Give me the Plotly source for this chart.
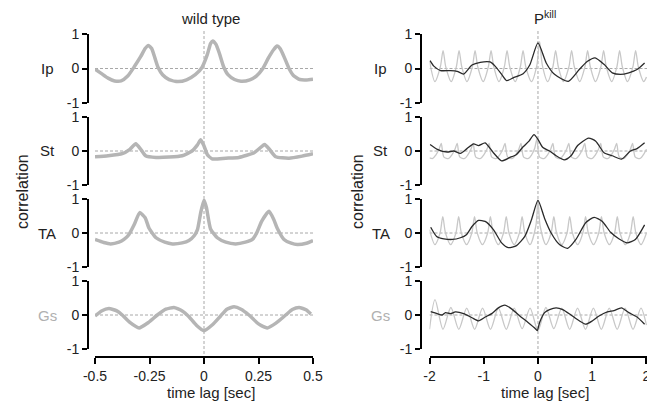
import plotly.graph_objects as go

# ---------------- data ----------------
rows = ["Ip", "St", "TA", "Gs"]
row_colors = ["#222222", "#222222", "#222222", "#b0b0b0"]

x_ticks_left = [-0.5, -0.25, 0, 0.25, 0.5]
x_ticklabels_left = ["-0.5", "-0.25", "0", "0.25", "0.5"]
x_ticks_right = [-2, -1, 0, 1, 2]
x_ticklabels_right = ["-2", "-1", "0", "1", "2"]
y_ticks = [-1, 0, 1]
y_ticklabels = ["-1", "0", "1"]

# wild type (left column)
wt_ip_x = [-0.50, -0.47, -0.44, -0.41, -0.38, -0.35, -0.32, -0.29, -0.27, -0.255, -0.24, -0.225, -0.21,
           -0.19, -0.16, -0.12, -0.08, -0.04, -0.01, 0.015, 0.03, 0.04, 0.055, 0.07, 0.09, 0.11, 0.14,
           0.17, 0.21, 0.24, 0.27, 0.295, 0.32, 0.335, 0.35, 0.37, 0.39, 0.41, 0.44, 0.47, 0.50]
wt_ip_y = [-0.02, -0.15, -0.28, -0.36, -0.36, -0.22, 0.05, 0.35, 0.58, 0.67, 0.58, 0.30, 0.02,
           -0.18, -0.32, -0.38, -0.33, -0.18, 0.02, 0.40, 0.72, 0.80, 0.70, 0.45, 0.05, -0.18, -0.32,
           -0.37, -0.33, -0.22, 0.0, 0.30, 0.55, 0.65, 0.57, 0.30, 0.0, -0.20, -0.32, -0.33, -0.31]

wt_st_x = [-0.50, -0.44, -0.375, -0.34, -0.313, -0.29, -0.268, -0.22, -0.16, -0.10, -0.055, -0.03, -0.015,
           0.0, 0.015, 0.037, 0.10, 0.16, 0.23, 0.255, 0.278, 0.30, 0.329, 0.39, 0.45, 0.50]
wt_st_y = [-0.17, -0.14, -0.08, 0.05, 0.21, 0.05, -0.14, -0.19, -0.18, -0.14, 0.0, 0.18, 0.33,
           0.15, -0.10, -0.23, -0.21, -0.19, -0.05, 0.08, 0.19, 0.05, -0.17, -0.21, -0.15, -0.08]

wt_ta_x = [-0.50, -0.46, -0.428, -0.39, -0.367, -0.345, -0.32, -0.295, -0.27, -0.252, -0.22, -0.18, -0.145,
           -0.10, -0.069, -0.045, -0.03, -0.015, 0.0, 0.011, 0.03, 0.061, 0.10, 0.145, 0.19, 0.222, 0.24,
           0.265, 0.298, 0.32, 0.336, 0.367, 0.40, 0.428, 0.47, 0.50]
wt_ta_y = [-0.19, -0.28, -0.32, -0.27, -0.19, -0.05, 0.25, 0.60, 0.45, 0.14, -0.14, -0.27, -0.32,
           -0.29, -0.22, -0.08, 0.10, 0.60, 0.97, 0.75, 0.12, -0.14, -0.27, -0.32, -0.27, -0.19, -0.02,
           0.35, 0.64, 0.40, 0.14, -0.19, -0.30, -0.34, -0.30, -0.22]

wt_gs_x = [-0.50, -0.47, -0.436, -0.40, -0.375, -0.34, -0.298, -0.255, -0.214, -0.175, -0.138, -0.10,
           -0.069, -0.035, 0.0, 0.04, 0.076, 0.105, 0.138, 0.17, 0.206, 0.25, 0.29, 0.33, 0.375, 0.405,
           0.436, 0.47, 0.49]
wt_gs_y = [-0.03, 0.12, 0.19, 0.12, 0.0, -0.22, -0.38, -0.22, 0.0, 0.17, 0.22, 0.12,
           -0.05, -0.30, -0.46, -0.28, -0.03, 0.17, 0.24, 0.17, 0.0, -0.26, -0.38, -0.24, 0.0, 0.16,
           0.22, 0.15, 0.03]

# P-kill (right column): light grey reference and dark curve
gr_ip_x = [-2.0, -1.9, -1.8, -1.75, -1.7, -1.6, -1.505, -1.455, -1.405, -1.31, -1.21, -1.16, -1.11, -1.01,
           -0.915, -0.865, -0.815, -0.72, -0.62, -0.57, -0.52, -0.42, -0.325, -0.275, -0.225, -0.12,
           -0.02, 0.03, 0.08, 0.18, 0.275, 0.325, 0.375, 0.47, 0.57, 0.62, 0.67, 0.77, 0.865, 0.915,
           0.965, 1.06, 1.16, 1.21, 1.26, 1.36, 1.455, 1.505, 1.555, 1.65, 1.75, 1.80, 1.85, 1.95, 2.0]
gr_ip_y = [0.22, -0.38, 0.05, 0.52, 0.05, -0.38, 0.05, 0.52, 0.05, -0.38, 0.05, 0.52, 0.05, -0.38,
           0.05, 0.52, 0.05, -0.38, 0.05, 0.52, 0.05, -0.38, 0.05, 0.52, 0.05, -0.38,
           0.10, 0.78, 0.10, -0.38, 0.05, 0.52, 0.05, -0.38, 0.05, 0.52, 0.05, -0.38, 0.05, 0.52,
           0.05, -0.38, 0.05, 0.52, 0.05, -0.38, 0.05, 0.52, 0.05, -0.38, 0.05, 0.52, 0.05, -0.38, -0.25]

dk_ip_x = [-1.99, -1.92, -1.796, -1.613, -1.49, -1.37, -1.217, -1.065, -0.883, -0.791, -0.67, -0.578,
           -0.457, -0.274, -0.152, 0.0, 0.152, 0.304, 0.56, 0.761, 0.913, 1.053, 1.218, 1.37, 1.522,
           1.674, 1.826, 1.966]
dk_ip_y = [0.23, 0.07, -0.06, -0.06, -0.08, -0.16, 0.10, 0.18, 0.19, 0.07, -0.17, -0.35,
           -0.27, -0.15, 0.10, 0.74, 0.16, -0.17, -0.37, -0.03, 0.21, 0.31, 0.12, -0.125, -0.17,
           -0.125, -0.03, 0.16]

gr_st_x = [-2.0, -1.94, -1.884, -1.824, -1.784, -1.734, -1.644, -1.59, -1.53, -1.49, -1.44, -1.35,
           -1.296, -1.236, -1.196, -1.146, -1.056, -1.002, -0.942, -0.902, -0.852, -0.762, -0.708,
           -0.648, -0.608, -0.558, -0.468, -0.414, -0.354, -0.314, -0.264, -0.174, -0.12, -0.06,
           -0.02, 0.03, 0.12, 0.174, 0.234, 0.274, 0.324, 0.414, 0.468, 0.528, 0.568, 0.618, 0.708,
           0.762, 0.822, 0.862, 0.912, 1.002, 1.056, 1.116, 1.156, 1.206, 1.296, 1.35, 1.41, 1.45,
           1.5, 1.59, 1.644, 1.704, 1.744, 1.794, 1.884, 1.938, 2.0]
gr_st_y = [-0.20, -0.22, -0.12, 0.05, 0.22, -0.18, -0.22, -0.12, 0.05, 0.22, -0.18, -0.22,
           -0.12, 0.05, 0.22, -0.18, -0.22, -0.12, 0.05, 0.22, -0.18, -0.22, -0.12,
           0.05, 0.22, -0.18, -0.22, -0.12, 0.05, 0.22, -0.18, -0.22, -0.12, 0.08,
           0.35, -0.18, -0.22, -0.12, 0.05, 0.22, -0.18, -0.22, -0.12, 0.05, 0.22, -0.18, -0.22,
           -0.12, 0.05, 0.22, -0.18, -0.22, -0.12, 0.05, 0.22, -0.18, -0.22, -0.12, 0.05, 0.22,
           -0.18, -0.22, -0.12, 0.05, 0.22, -0.18, -0.22, -0.12, 0.05]

dk_st_x = [-1.99, -1.857, -1.674, -1.552, -1.43, -1.309, -1.187, -1.096, -0.974, -0.822, -0.67, -0.518,
           -0.396, -0.274, -0.165, -0.073, 0.0, 0.091, 0.213, 0.335, 0.487, 0.609, 0.731, 0.932,
           1.065, 1.218, 1.37, 1.54, 1.705, 1.826, 1.966]
dk_st_y = [0.19, 0.05, -0.03, 0.0, -0.07, 0.07, 0.21, 0.16, 0.24, -0.05, -0.29, -0.19,
           -0.10, 0.125, 0.29, 0.48, 0.34, 0.10, 0.0, -0.14, -0.26, -0.14, 0.16, 0.38,
           0.29, -0.05, -0.14, -0.24, 0.0, 0.07, 0.24]

gr_ta_x = [-2.0, -1.9, -1.805, -1.755, -1.705, -1.61, -1.5125, -1.4625, -1.4125, -1.316, -1.22, -1.17,
           -1.12, -1.024, -0.9275, -0.8775, -0.8275, -0.731, -0.635, -0.585, -0.535, -0.439, -0.3425,
           -0.2925, -0.2425, -0.146, -0.04, 0.0, 0.04, 0.146, 0.2425, 0.2925, 0.3425, 0.439, 0.535,
           0.585, 0.635, 0.731, 0.8275, 0.8775, 0.9275, 1.024, 1.12, 1.17, 1.22, 1.316, 1.4125,
           1.4625, 1.5125, 1.61, 1.705, 1.755, 1.805, 1.9, 2.0]
gr_ta_y = [0.10, -0.34, 0.0, 0.48, 0.0, -0.34, 0.0, 0.48, 0.0, -0.34, 0.0, 0.48,
           0.0, -0.34, 0.0, 0.48, 0.0, -0.34, 0.0, 0.48, 0.0, -0.34, 0.0,
           0.48, 0.0, -0.34, 0.20, 0.98, 0.20, -0.34, 0.0, 0.48, 0.0, -0.34, 0.0,
           0.48, 0.0, -0.34, 0.0, 0.48, 0.0, -0.34, 0.0, 0.48, 0.0, -0.34, 0.0,
           0.48, 0.0, -0.34, 0.0, 0.48, 0.0, -0.34, 0.0]

dk_ta_x = [-1.978, -1.869, -1.735, -1.583, -1.43, -1.32, -1.217, -1.096, -0.974, -0.822, -0.67, -0.548,
           -0.396, -0.243, -0.122, 0.0, 0.122, 0.243, 0.396, 0.548, 0.70, 0.883, 1.035, 1.187, 1.339,
           1.49, 1.644, 1.796, 1.966]
dk_ta_y = [0.17, -0.10, -0.17, -0.19, -0.14, -0.05, 0.19, 0.37, 0.34, 0.10, -0.29, -0.43,
           -0.37, -0.10, 0.38, 0.96, 0.43, 0.0, -0.34, -0.45, -0.19, 0.31, 0.46, 0.34, 0.02,
           -0.17, -0.29, -0.19, 0.24]

gr_gs_x = [-2.0, -1.898, -1.752, -1.606, -1.46, -1.314, -1.168, -1.022, -0.876, -0.73, -0.584, -0.438,
           -0.292, -0.146, 0.0, 0.146, 0.292, 0.438, 0.584, 0.73, 0.876, 1.022, 1.168, 1.314, 1.46,
           1.606, 1.752, 1.898, 2.0]
gr_gs_y = [-0.42, 0.45, -0.42, 0.22, -0.42, 0.20, -0.42, 0.20, -0.42, 0.20, -0.42, 0.20,
           -0.40, 0.20, -0.46, 0.22, -0.40, 0.20, -0.42, 0.20, -0.42, 0.20, -0.42, 0.20, -0.42,
           0.20, -0.42, 0.20, -0.30]

dk_gs_x = [-1.978, -1.857, -1.766, -1.705, -1.613, -1.522, -1.37, -1.217, -1.096, -0.974, -0.852, -0.731,
           -0.609, -0.487, -0.335, -0.183, -0.043, -0.012, 0.03, 0.122, 0.213, 0.335, 0.457, 0.609,
           0.761, 0.883, 1.005, 1.126, 1.279, 1.40, 1.54, 1.674, 1.826, 1.966]
dk_gs_y = [0.10, 0.04, 0.0, 0.07, 0.04, 0.09, 0.04, -0.08, -0.17, -0.06, 0.04, 0.21,
           0.29, 0.18, -0.03, -0.22, -0.41, -0.46, -0.22, 0.07, 0.16, 0.21, 0.16, 0.0,
           -0.17, -0.27, -0.17, -0.03, 0.09, 0.13, 0.21, 0.07, -0.06, -0.27]

wt_series = [(wt_ip_x, wt_ip_y), (wt_st_x, wt_st_y), (wt_ta_x, wt_ta_y), (wt_gs_x, wt_gs_y)]
gr_series = [(gr_ip_x, gr_ip_y), (gr_st_x, gr_st_y), (gr_ta_x, gr_ta_y), (gr_gs_x, gr_gs_y)]
dk_series = [(dk_ip_x, dk_ip_y), (dk_st_x, dk_st_y), (dk_ta_x, dk_ta_y), (dk_gs_x, dk_gs_y)]

# ---------------- layout ----------------
W, H = 647, 406
FONT = "Arial, Liberation Sans, sans-serif"


def px(v):
    return v / W


def py(v):
    return 1 - v / H


row_px = [(34, 103), (117, 185), (199, 267), (281, 349)]  # (top, bottom) pixel extents of -1..1
col_x = [(95, 313), (429.5, 647)]
col_spine = [88, 421]
col_range = [[-0.5, 0.5], [-2, 2.01]]
xaxis_line_y = 357

fig = go.Figure()
layout = {}
shapes = []
annotations = []

for c in range(2):
    for r in range(4):
        i = c * 4 + r + 1
        xa = "x" if i == 1 else f"x{i}"
        ya = "y" if i == 1 else f"y{i}"
        xkey = "xaxis" if i == 1 else f"xaxis{i}"
        ykey = "yaxis" if i == 1 else f"yaxis{i}"
        top, bot = row_px[r]
        bottom = (r == 3)
        xdict = dict(domain=[px(col_x[c][0]), min(1.0, px(col_x[c][1]))], range=col_range[c],
                     showgrid=False, zeroline=False, fixedrange=True, automargin=False)
        if bottom:
            xdict.update(anchor="free", position=py(xaxis_line_y), showline=True, linecolor="black",
                         linewidth=2, ticks="outside", ticklen=6, tickwidth=2, tickcolor="black",
                         tickvals=x_ticks_left if c == 0 else x_ticks_right,
                         ticktext=x_ticklabels_left if c == 0 else x_ticklabels_right,
                         ticklabeloverflow="allow",
                         tickfont=dict(family=FONT, size=14, color="#222"))
        else:
            xdict.update(anchor=ya, visible=False)
        layout[xkey] = xdict
        layout[ykey] = dict(domain=[py(bot), py(top)], range=[-1, 1], anchor="free",
                            position=px(col_spine[c]), showline=True, linecolor="black", linewidth=2,
                            ticks="outside", ticklen=5, tickwidth=2, tickcolor="black",
                            tickvals=y_ticks, ticktext=y_ticklabels, showgrid=False, zeroline=False,
                            tickfont=dict(family=FONT, size=14, color="#222"), fixedrange=True,
                            automargin=False)
        # horizontal dashed zero line
        shapes.append(dict(type="line", xref=xa, yref=ya, x0=col_range[c][0], x1=col_range[c][1],
                           y0=0, y1=0, line=dict(color="#a8a8a8", width=1, dash="3px,2px"), layer="below"))
        if c == 0:
            fig.add_trace(go.Scatter(x=wt_series[r][0], y=wt_series[r][1], xaxis=xa, yaxis=ya,
                                     mode="lines", line=dict(color="#b5b5b5", width=3.5, shape="spline",
                                                             smoothing=0.5),
                                     showlegend=False, hoverinfo="skip"))
        else:
            fig.add_trace(go.Scatter(x=gr_series[r][0], y=gr_series[r][1], xaxis=xa, yaxis=ya,
                                     mode="lines", line=dict(color="#c8c8c8", width=1.3, shape="spline",
                                                             smoothing=0.8),
                                     showlegend=False, hoverinfo="skip"))
            fig.add_trace(go.Scatter(x=dk_series[r][0], y=dk_series[r][1], xaxis=xa, yaxis=ya,
                                     mode="lines", line=dict(color="#2a2a2a", width=1.3, shape="spline",
                                                             smoothing=0.6),
                                     showlegend=False, hoverinfo="skip"))
        # row labels
        zero_y = (top + bot) / 2
        annotations.append(dict(text=rows[r], x=px([47, 381][c]), y=py(zero_y), xref="paper", yref="paper",
                                showarrow=False, xanchor="center", yanchor="middle",
                                font=dict(family=FONT, size=15, color=row_colors[r])))
    # vertical dashed line at x = 0
    xa0 = "x" if c == 0 else "x5"
    shapes.append(dict(type="line", xref=xa0, yref="paper", x0=0, x1=0, y0=py(354), y1=py(31),
                       line=dict(color="#a8a8a8", width=1, dash="3px,2px"), layer="below"))
    # y title
    annotations.append(dict(text="correlation", x=px([22, 357][c]), y=py(192), xref="paper", yref="paper",
                            showarrow=False, textangle=-90, xanchor="center", yanchor="middle",
                            font=dict(family=FONT, size=16, color="#222")))
    # x title
    annotations.append(dict(text="time lag [sec]", x=px([211, 545][c]), y=py(392), xref="paper",
                            yref="paper", showarrow=False, xanchor="center", yanchor="middle",
                            font=dict(family=FONT, size=15, color="#222")))

annotations.append(dict(text="wild type", x=px(210), y=py(18), xref="paper", yref="paper", showarrow=False,
                        xanchor="center", yanchor="middle", font=dict(family=FONT, size=15, color="#222")))
annotations.append(dict(text="P<sup>kill</sup>", x=px(545), y=py(17), xref="paper", yref="paper",
                        showarrow=False, xanchor="center", yanchor="middle",
                        font=dict(family=FONT, size=15, color="#222")))

fig.update_layout(template="none", width=W, height=H, margin=dict(l=0, r=0, t=0, b=0),
                  paper_bgcolor="white", plot_bgcolor="white", showlegend=False, shapes=shapes,
                  annotations=annotations, **layout)

fig.write_html("out.html", config={"displayModeBar": False},
               post_script="document.body.style.margin='0';document.body.style.overflow='hidden';")
